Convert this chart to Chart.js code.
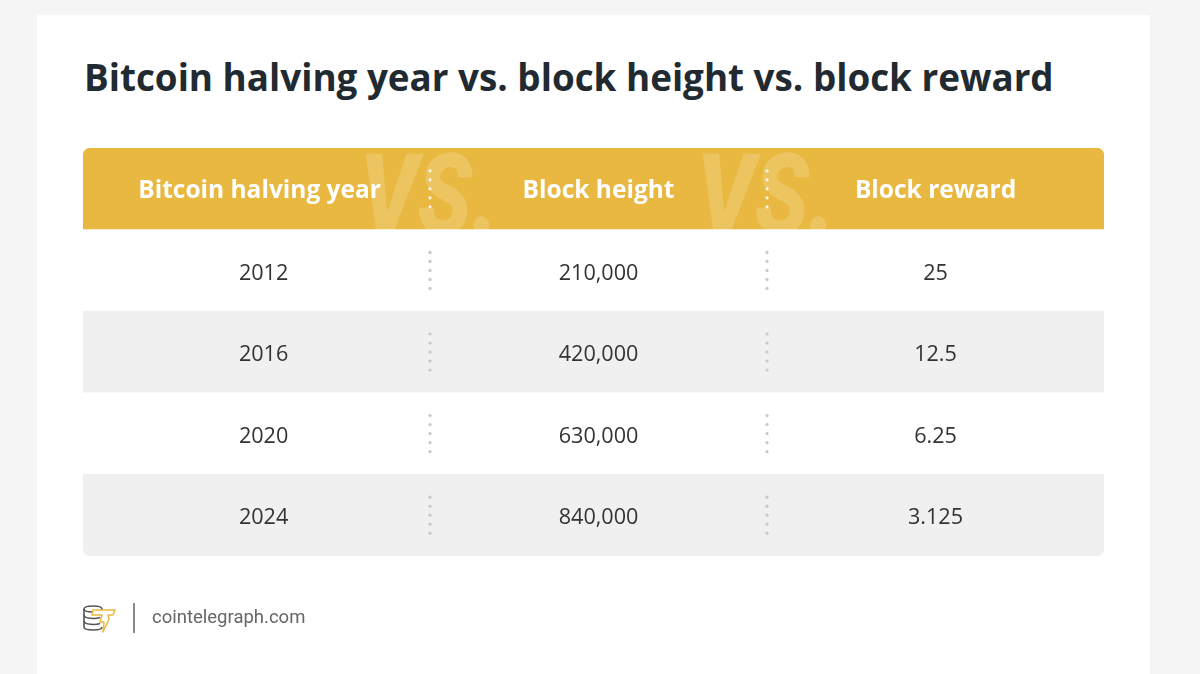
<!DOCTYPE html>
<html>
<head>
<meta charset="utf-8">
<script src="https://cdn.jsdelivr.net/npm/chart.js@4/dist/chart.umd.min.js"></script>
<style>
  html, body { margin: 0; padding: 0; }
  body { width: 1200px; height: 674px; background: #f5f5f5; position: relative; overflow: hidden; font-family: "Open Sans", sans-serif; }
  #card { position: absolute; left: 37px; top: 15px; width: 1113px; height: 659px; background: #fff; }
  #title { position: absolute; left: 84px; top: 59px; margin: 0; font: 700 36.8px/37px "Open Sans", sans-serif; color: #222a31; letter-spacing: 0; white-space: nowrap; }
  #mycanvas { position: absolute; left: 0; top: 0; }
  #logo { position: absolute; left: 82px; top: 602px; }
  #sep { position: absolute; left: 133px; top: 603px; width: 2px; height: 30px; background: #8a8a8a; }
  #site { position: absolute; left: 152px; top: 608px; font: 400 18.5px/18px Roboto, sans-serif; color: #666; }
</style>
</head>
<body>
<div id="card"></div>
<h1 id="title">Bitcoin halving year vs. block height vs. block reward</h1>
<canvas id="mycanvas" width="1200" height="674"></canvas>
<svg id="logo" width="36" height="32" viewBox="0 0 36 32">
  <g fill="none" stroke="#555" stroke-width="1.6">
    <path d="M2 7 C2 3, 20 3, 20 7 C20 11, 2 11, 2 7 Z"/>
    <path d="M2 7 L2 25 C2 29, 20 29, 20 25"/>
    <path d="M2 13 C2 17, 14 17, 18 15.5"/>
    <path d="M2 19 C2 23, 14 23, 18 21.5"/>
  </g>
  <path d="M11 8 L33 8 L31 13 L26 13 L27 17 L21 30 L22 20 L18 20 L20 13 L10 13 Z" fill="#fff" stroke="#e9b840" stroke-width="1.5" stroke-linejoin="round"/>
</svg>
<div id="sep"></div>
<div id="site">cointelegraph.com</div>
<script>
var columns = ['Bitcoin halving year', 'Block height', 'Block reward'];
var years = ['2012', '2016', '2020', '2024'];
var blockHeights = [210000, 420000, 630000, 840000];
var blockRewards = [25, 12.5, 6.25, 3.125];

var rows = ['header'].concat(years);
var rowColors = ['#e9b840', '#ffffff', '#f0f0f0', '#ffffff', '#f0f0f0'];
var X_MIN = -0.03;

function cellText(row, col) {
	var i = row - 1;
	if (col == 0) return years[i];
	if (col == 1) return blockHeights[i].toLocaleString('en-US');
	return String(blockRewards[i]);
}

var tablePlugin = {
	id: 'tableText',
	afterDatasetsDraw: function(chart) {
		var ctx = chart.ctx;
		var x = chart.scales.x;
		var y = chart.scales.y;
		var bar0 = chart.getDatasetMeta(0).data[0];
		var half = (y.getPixelForValue(1) - y.getPixelForValue(0)) / 2;

		// big "VS." watermark in header, clipped to the header bar
		ctx.save();
		ctx.beginPath();
		ctx.rect(x.left, bar0.y - half, x.right - x.left, half * 2);
		ctx.clip();
		ctx.fillStyle = 'rgba(255,255,255,0.17)';
		ctx.textAlign = 'center';
		ctx.textBaseline = 'alphabetic';
		ctx.font = 'italic 900 112px Roboto';
		for (var d = 1; d < columns.length; d++) {
			ctx.save();
			ctx.translate(x.getPixelForValue(d) - 1, bar0.y + half + 4);
			ctx.scale(0.8, 1);
			ctx.fillText('VS.', 0, 0);
			ctx.restore();
		}
		ctx.restore();

		ctx.save();
		for (var r = 0; r < rows.length; r++) {
			var cy = y.getPixelForValue(r);
			// dotted dividers
			ctx.fillStyle = r == 0 ? 'rgba(255,255,255,0.85)' : '#c8c8c8';
			for (var d = 1; d < columns.length; d++) {
				var dx = x.getPixelForValue(d);
				for (var k = -2; k <= 2; k++) {
					ctx.beginPath();
					ctx.arc(dx, cy + k * 9, 1.6, 0, Math.PI * 2);
					ctx.fill();
				}
			}
			// cell text
			ctx.textAlign = 'center';
			ctx.textBaseline = 'middle';
			for (var c = 0; c < columns.length; c++) {
				var cx = x.getPixelForValue(c + 0.5);
				if (r == 0) {
					ctx.font = '700 24.5px "Open Sans"';
					ctx.fillStyle = '#ffffff';
					ctx.fillText(columns[c], cx - (c == 0 ? 2 : 0), cy + 2);
				} else {
					ctx.font = '400 21.6px "Open Sans"';
					ctx.fillStyle = '#333333';
					ctx.fillText(cellText(r, c), cx + (c == 0 ? 2 : 0), cy + 3);
				}
			}
		}
		ctx.restore();
	}
};

var last = rows.length - 1;
var chartdata = {
	labels: rows,
	datasets: [{
		data: rows.map(function() { return [X_MIN, columns.length]; }),
		backgroundColor: rowColors,
		borderWidth: 0,
		borderSkipped: false,
		borderRadius: function(c) {
			if (c.dataIndex == 0) return {topLeft: 8, topRight: 8, bottomLeft: 0, bottomRight: 0};
			if (c.dataIndex == last) return {topLeft: 0, topRight: 0, bottomLeft: 8, bottomRight: 8};
			return 0;
		},
		barPercentage: 1,
		categoryPercentage: 1
	}]
};

document.fonts.load('700 24px "Open Sans"').then(function() {
	return document.fonts.load('italic 900 110px Roboto');
}).catch(function() {}).then(function() {
	var ctx = document.getElementById('mycanvas');
	new Chart(ctx, {
		type: 'bar',
		data: chartdata,
		options: {
			indexAxis: 'y',
			responsive: false,
			animation: false,
			events: [],
			layout: { padding: { left: 83, right: 96, top: 148, bottom: 118 } },
			scales: {
				x: { type: 'linear', min: X_MIN, max: columns.length, display: false },
				y: { type: 'category', display: false, offset: true }
			},
			plugins: { legend: { display: false }, tooltip: { enabled: false } }
		},
		plugins: [tablePlugin]
	});
});
</script>
</body>
</html>
